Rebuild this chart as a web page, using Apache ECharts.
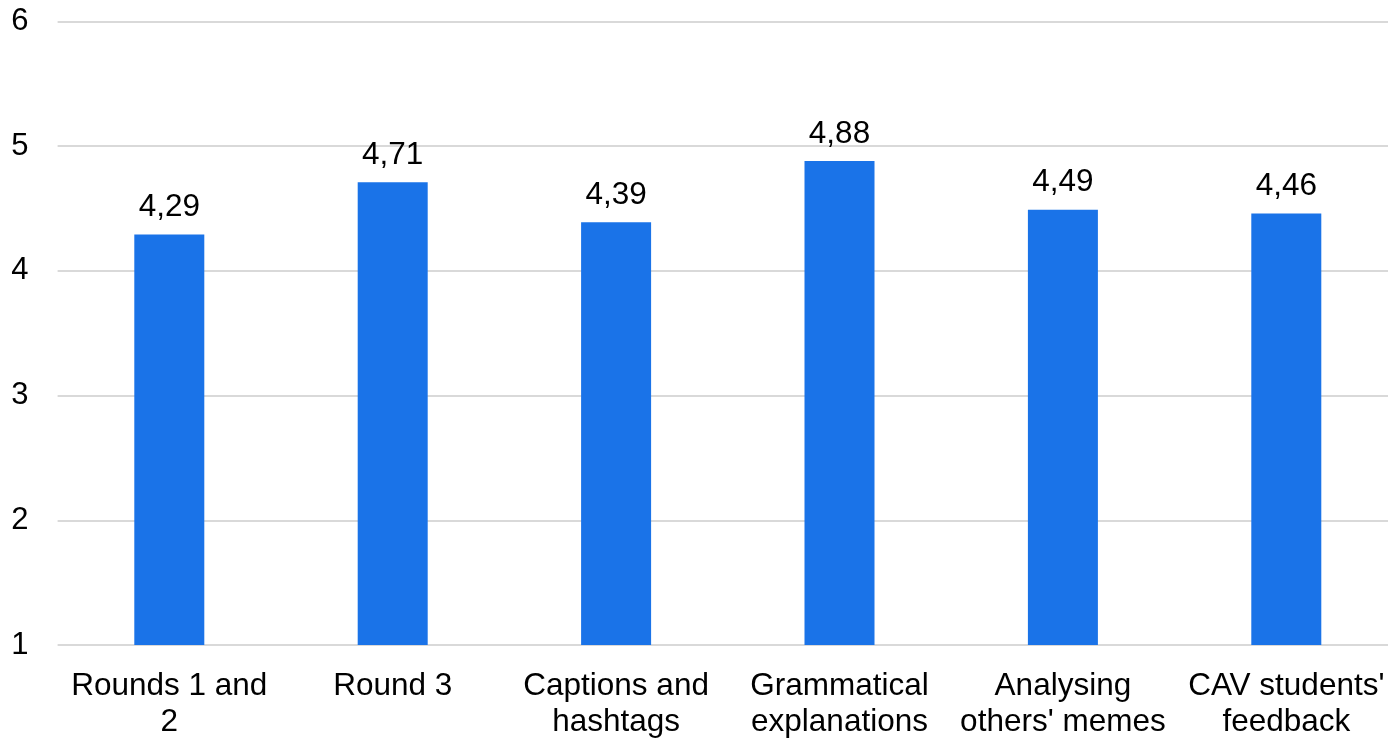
<!DOCTYPE html>
<html>
<head>
<meta charset="utf-8">
<script src="https://cdn.jsdelivr.net/npm/echarts@6/dist/echarts.min.js"></script>
<style>
html,body{margin:0;padding:0;background:#fff;overflow:hidden;width:1388px;height:740px;}
#chart{width:1398px;height:740px;}
</style>
</head>
<body>
<div id="chart"></div>
<script>
const categories = ["Rounds 1 and\n2", "Round 3", "Captions and\nhashtags", "Grammatical\nexplanations", "Analysing\nothers' memes", "CAV students'\nfeedback"];
const values = [4.29, 4.71, 4.39, 4.88, 4.49, 4.46];
const yTicks = [1, 2, 3, 4, 5, 6];

const chart = echarts.init(document.getElementById('chart'), null, {renderer: 'canvas'});
const FONT = 'Liberation Sans, Arial, sans-serif';
chart.setOption({
  animation: false,
  grid: {left: 57.6, right: 0, top: 21.3, bottom: 91.3, containLabel: false},
  xAxis: {
    type: 'category',
    data: categories,
    axisLine: {show: false},
    axisTick: {show: false},
    axisLabel: {
      interval: 0,
      margin: 23,
      fontFamily: FONT,
      fontSize: 31.5,
      lineHeight: 36,
      color: '#000'
    }
  },
  yAxis: {
    type: 'value',
    min: yTicks[0],
    max: yTicks[yTicks.length - 1],
    interval: 1,
    axisLine: {show: false},
    axisTick: {show: false},
    splitLine: {lineStyle: {color: '#d9d9d9', width: 2}},
    axisLabel: {
      margin: 29,
      fontFamily: FONT,
      fontSize: 31,
      color: '#000'
    }
  },
  series: [{
    type: 'bar',
    data: values,
    barWidth: 70,
    itemStyle: {color: '#1a73e8'},
    label: {
      show: true,
      position: 'top',
      distance: 11,
      fontFamily: FONT,
      fontSize: 31.5,
      color: '#000',
      formatter: p => p.value.toFixed(2).replace('.', ',')
    }
  }]
});
</script>
</body>
</html>
